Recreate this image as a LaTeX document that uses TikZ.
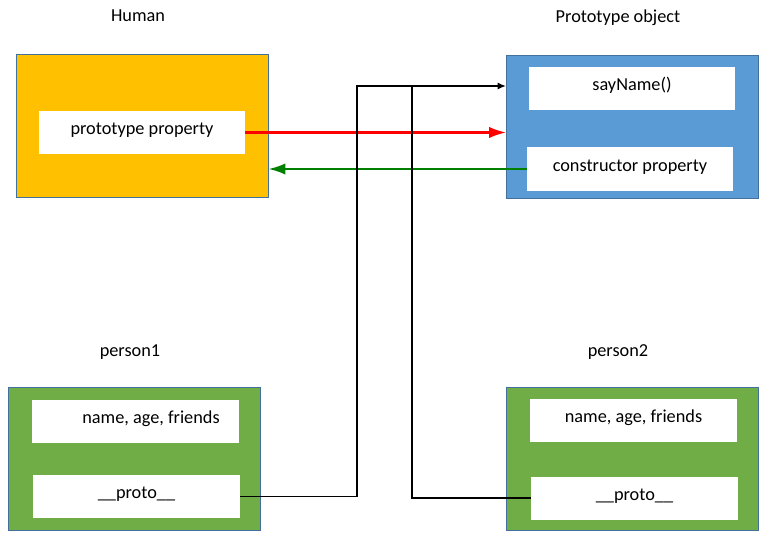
\documentclass[tikz,border=0pt]{standalone}
\usepackage{fontspec}
\setmainfont{Carlito}
\usepackage{tikz}
\usetikzlibrary{arrows.meta}

\definecolor{humanfill}{HTML}{FFC000}
\definecolor{objfill}{HTML}{5B9BD5}
\definecolor{personfill}{HTML}{70AD47}
\definecolor{boxline}{HTML}{41719C}
\definecolor{ctorgreen}{HTML}{008000}

\begin{document}
\begin{tikzpicture}[x=0.025cm,y=-0.025cm,>={Latex[length=12pt,width=8pt]},
	outer box/.style={draw=boxline,line width=0.5pt,minimum width=6.3cm,minimum height=3.575cm,inner sep=0},
	inner box/.style={fill=white,minimum width=5.15cm,minimum height=1.075cm,inner sep=0,text height=8pt,text depth=5pt}]
	\tikzstyle{every node}=[font=\fontsize{13}{15}\selectfont]
	\useasboundingbox (0,0) rectangle (770,540);
	% titles
	\node (humanlabel) at (138,16) {Human};
	\node (objlabel) at (618,18) {Prototype object};
	\node (p1label) at (130,352) {person1};
	\node (p2label) at (618,352) {person2};
	% outer boxes
	\node (human) [outer box, fill=humanfill] at (142,125.5) {};
	\node (protoobj) [outer box, fill=objfill] at (632.5,126.5) {};
	\node (p1) [outer box, fill=personfill] at (134,458.5) {};
	\node (p2) [outer box, fill=personfill] at (632.5,459) {};
	% inner boxes
	\node (protoprop) [inner box] at (142,132.5) {prototype property};
	\node (sayname) [inner box] at (632,88.5) {sayName()};
	\node (ctor) [inner box] at (630,169) {constructor property};
	\node (p1data) [inner box] at (135.5,421.5) {\hspace*{22pt}name, age, friends};
	\node (p1proto) [inner box] at (136.5,496.5) {\_\_proto\_\_};
	\node (p2data) [inner box] at (633.5,420.5) {name, age, friends};
	\node (p2proto) [inner box] at (634.5,498) {\_\_proto\_\_};
	% links
	\coordinate (bend1) at (357,86);
	\coordinate (bend2) at (412,86);
	\draw[->,red,line width=1.6pt] (protoprop.east) -- (protoprop.east -| protoobj.west);
	\draw[->,ctorgreen,line width=1.6pt] (ctor.west) -- (ctor.west -| human.east);
	\draw[-{Latex[length=6pt,width=5pt]},line width=1.3pt] (p1proto.east) -| (bend1) -- (bend1 -| protoobj.west);
	\draw[line width=1.3pt] (p2proto.west) -| (bend2);
\end{tikzpicture}
\end{document}
